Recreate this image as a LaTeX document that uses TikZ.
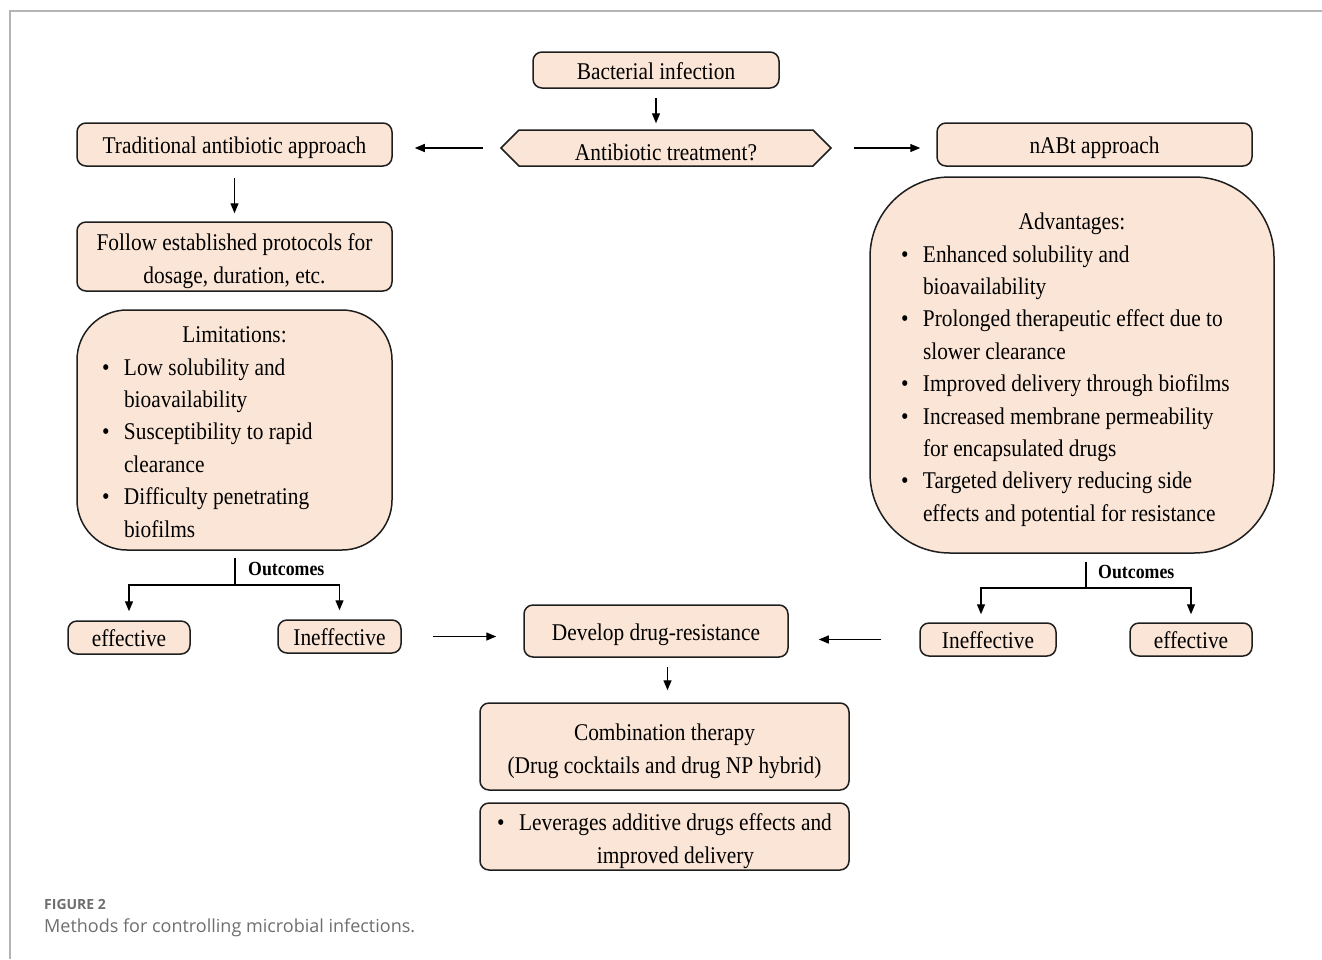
\documentclass[tikz,border=0pt]{standalone}
\usepackage{fontspec}
\setmainfont[FakeStretch=0.89]{Liberation Serif}
\newfontfamily\capfont{Open Sans}
\usetikzlibrary{arrows.meta,shapes.symbols}

\definecolor{boxfill}{HTML}{FBE5D6}
\definecolor{boxline}{HTML}{1E1E1E}
\definecolor{framegray}{HTML}{B4B4B4}
\definecolor{capgray}{HTML}{6E6E6E}

\newlength\bulletw
\setlength\bulletw{22pt}
\newcommand{\listsetup}{\rightskip=0pt plus 1fil\parfillskip=0pt plus 1fil\spaceskip=0pt\xspaceskip=0pt}
\newcommand{\bitem}[1]{\par\noindent\hangindent=\bulletw\hangafter=1\hbox to\bulletw{\textbullet\hfil}#1}
\newcommand{\tstrut}[1][26pt]{\rule{0pt}{#1}}

\tikzset{
  box/.style={draw=boxline, fill=boxfill, line width=1.5pt, rounded corners=9pt,
    inner sep=0pt, font={\fontsize{24}{32.4}\selectfont}},
  onebox/.style={box, text height=18pt, text depth=0pt},
  arr/.style={-{Triangle[length=10pt,width=8pt]}, line width=1.4pt, black},
  link/.style={line width=1.4pt, black},
  outlabel/.style={anchor=west, inner sep=0pt, font={\bfseries\fontsize{20}{24}\selectfont}},
}

\begin{document}
\begin{tikzpicture}[x=1pt,y=-1pt]
  \useasboundingbox (0,0) rectangle (1322,959);
  \draw[framegray, line width=1.2pt] (10,959) -- (10,11) -- (1322,11);

  % top
  \node[onebox, minimum width=246pt, minimum height=36pt] (inf) at (656,70) {Bacterial infection};
  \node[onebox, shape=signal, signal to=west and east, signal pointer angle=90, sharp corners,
    minimum width=330pt, minimum height=36pt, text height=24pt] (treat) at (666,148) {Antibiotic treatment?};
  \draw[arr, shorten <=9pt, shorten >=6pt] (inf.south) -- (inf.south |- treat.north);

  % traditional side
  \node[onebox, minimum width=315pt, minimum height=43pt] (trad) at (234.5,144.5) {Traditional antibiotic approach};
  \node[box, minimum width=315pt, minimum height=69pt, align=center] (follow) at (234.5,256.5)
    {\tstrut Follow established protocols for\\dosage, duration, etc.};
  \node[box, rounded corners=50pt, minimum width=315pt, minimum height=240pt,
    text width=265pt, inner xsep=25pt] (lim) at (234.5,430)
    {{\centering\tstrut[20pt]Limitations:\par}\listsetup
     \bitem{Low solubility and\newline bioavailability}%
     \bitem{Susceptibility to rapid\newline clearance}%
     \bitem{Difficulty penetrating\newline biofilms}\par};
  \draw[arr, shorten <=17pt, shorten >=22pt] (treat.west) -- (treat.west -| trad.east);
  \draw[arr, shorten <=11pt, shorten >=8pt] (trad.south) -- (follow.north);

  \node[onebox, minimum width=122pt, minimum height=33pt] (effL) at (129,637.5) {effective};
  \node[onebox, minimum width=123pt, minimum height=33pt] (ineffL) at (339.5,636.5) {Ineffective};
  \coordinate (lsplit) at (235,585);
  \draw[link, shorten <=7pt] (lim.south -| lsplit) -- (lsplit);
  \draw[arr, shorten >=9pt] (lsplit) -| (effL.north);
  \draw[arr, shorten >=9pt] (lsplit) -| (ineffL.north);
  \node[outlabel] (outL) at (248,569) {Outcomes};

  % nABt side
  \node[onebox, minimum width=315pt, minimum height=43pt] (nabt) at (1094.5,144.5) {nABt approach};
  \node[box, rounded corners=80pt, minimum width=404pt, minimum height=376pt,
    text width=342pt, inner xsep=31pt] (adv) at (1072,365)
    {{\centering\tstrut Advantages:\par}\listsetup
     \bitem{Enhanced solubility and\newline bioavailability}%
     \bitem{Prolonged therapeutic effect due to\newline slower clearance}%
     \bitem{Improved delivery through biofilms}%
     \bitem{Increased membrane permeability\newline for encapsulated drugs}%
     \bitem{Targeted delivery reducing side\newline effects and potential for resistance}\par};
  \draw[arr, shorten <=22pt, shorten >=16pt] (treat.east) -- (treat.east -| nabt.west);

  \node[onebox, minimum width=136pt, minimum height=33pt] (ineffR) at (988,639.5) {Ineffective};
  \node[onebox, minimum width=122pt, minimum height=33pt] (effR) at (1191,639.5) {effective};
  \coordinate (rsplit) at (1086,588);
  \draw[link, shorten <=8pt] (adv.south -| rsplit) -- (rsplit);
  \draw[arr, shorten >=8pt] (rsplit) -| ([xshift=-7pt]ineffR.north);
  \draw[arr, shorten >=8pt] (rsplit) -| (effR.north);
  \node[outlabel] (outR) at (1098,572) {Outcomes};

  % middle
  \node[onebox, minimum width=264pt, minimum height=52pt] (dev) at (656,631) {Develop drug-resistance};
  \node[box, minimum width=369pt, minimum height=87pt, align=center] (comb) at (664.5,746.5)
    {\tstrut Combination therapy\\(Drug cocktails and drug NP hybrid)};
  \node[box, minimum width=369pt, minimum height=67pt, align=center] (lev) at (664.5,836.5)
    {\tstrut\hbox to\bulletw{\textbullet\hfil}Leverages additive drugs effects and\\\hspace*{\bulletw}improved delivery};
  \draw[arr, shorten <=31pt, shorten >=27pt] (ineffL.east) -- (ineffL.east -| dev.west);
  \draw[arr, shorten <=38pt, shorten >=30pt] (ineffR.west) -- (ineffR.west -| dev.east);
  \draw[arr, shorten <=9pt, shorten >=12pt] ([xshift=3pt]dev.south -| comb.north) -- ([xshift=3pt]comb.north);

  % caption
  \node[anchor=west, inner sep=0pt, text=capgray, font={\capfont\bfseries\fontsize{14}{16}\selectfont}] (fig) at (44,904) {FIGURE 2};
  \node[anchor=west, inner sep=0pt, text=capgray, font={\capfont\fontsize{18}{22}\selectfont}] (cap) at (44,928) {Methods for controlling microbial infections.};
\end{tikzpicture}
\end{document}
